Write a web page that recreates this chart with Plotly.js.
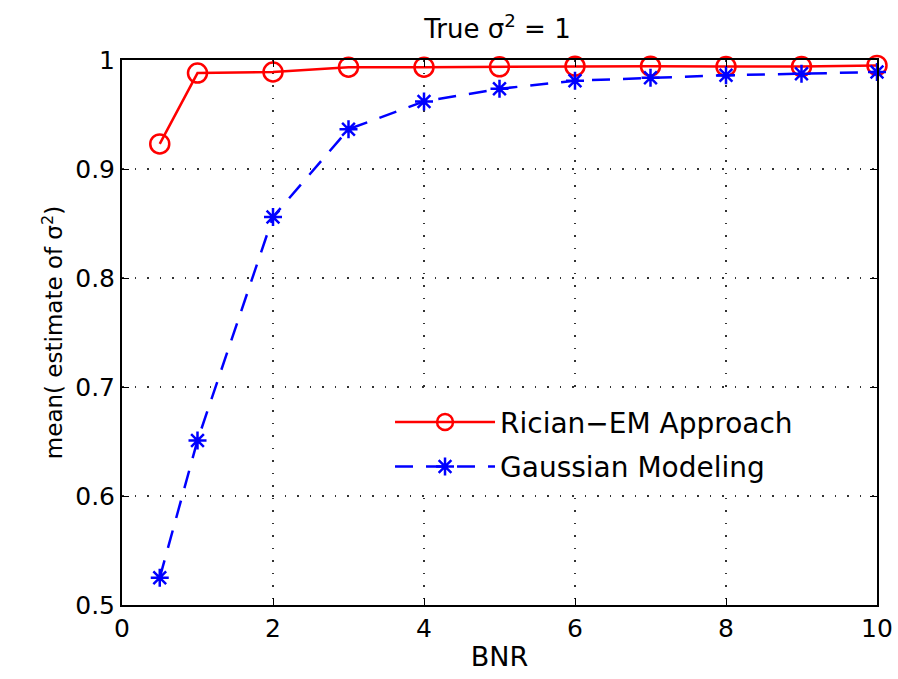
<!DOCTYPE html>
<html><head><meta charset="utf-8">
<script src="https://cdn.plot.ly/plotly-3.0.1.min.js"></script>
<style>html,body{margin:0;padding:0;background:#fff}#c{width:898px;height:679px}</style>
</head><body><div id="c"></div>
<script>
const bnr = [0.5, 1, 2, 3, 4, 5, 6, 7, 8, 9, 10];
const ricianEM = [0.923, 0.988, 0.989, 0.9934, 0.9934, 0.9937, 0.9943, 0.9943, 0.994, 0.994, 0.995];
const gaussian = [0.525, 0.651, 0.856, 0.9365, 0.962, 0.9736, 0.981, 0.9837, 0.986, 0.9874, 0.989];
const xTicks = [0, 2, 4, 6, 8, 10];
const yTicks = [0.5, 0.6, 0.7, 0.8, 0.9, 1];
const yTickText = ['0.5', '0.6', '0.7', '0.8', '0.9', '1'];

const FONT = 'DejaVu Sans, Verdana, sans-serif';

const traces = [
  {x: bnr, y: ricianEM, name: 'Rician\u2212EM Approach', legendgroup: 'a', mode: 'lines+markers', cliponaxis: false,
   line: {color: '#ff0000', width: 2.5},
   marker: {symbol: 'circle-open', size: 19, color: '#ff0000', line: {width: 2.5}}},
  {x: bnr, y: gaussian, name: 'Gaussian Modeling', legendgroup: 'b', mode: 'lines+markers', cliponaxis: false,
   line: {color: '#0000ff', width: 2.5, dash: '18px,13px'},
   marker: {symbol: 'asterisk-open', size: 15, color: '#0000ff', line: {width: 2.5, color: '#0000ff'}}}
];

const axisCommon = {
  showline: true, linecolor: '#000', linewidth: 2, mirror: 'ticks',
  ticks: 'inside', ticklen: 7, tickcolor: '#000', tickwidth: 1,
  showgrid: true, gridcolor: '#333', griddash: '1.5px,11px', gridwidth: 1.2,
  zeroline: false, tickfont: {family: FONT, size: 25, color: '#000'}
};

const layout = {
  width: 898, height: 679,
  margin: {l: 122, r: 21, t: 60, b: 74},
  paper_bgcolor: '#fff', plot_bgcolor: '#fff',
  title: {text: 'True \u03c3<sup>2</sup> = 1', x: 0.554, xanchor: 'center', y: 0.958, yanchor: 'middle',
          font: {family: FONT, size: 26, color: '#000'}},
  xaxis: Object.assign({}, axisCommon, {range: [0, 10], tickvals: xTicks, ticktext: xTicks.map(String),
    title: {text: 'BNR', standoff: 5, font: {family: FONT, size: 27, color: '#000'}}}),
  yaxis: Object.assign({}, axisCommon, {range: [0.5, 1], tickvals: yTicks, ticktext: yTickText,
    title: {text: 'mean( estimate of \u03c3<sup>2</sup>)', standoff: 6, font: {family: FONT, size: 23, color: '#000'}}}),
  showlegend: true,
  legend: {x: 0.355, y: 0.381, xanchor: 'left', yanchor: 'top', bgcolor: 'rgba(255,255,255,1)', borderwidth: 0,
    traceorder: 'grouped', font: {family: FONT, size: 28, color: '#000'}, tracegroupgap: 5, itemwidth: 100}
};

Plotly.newPlot('c', traces, layout, {displayModeBar: false, staticPlot: true});
</script></body></html>
